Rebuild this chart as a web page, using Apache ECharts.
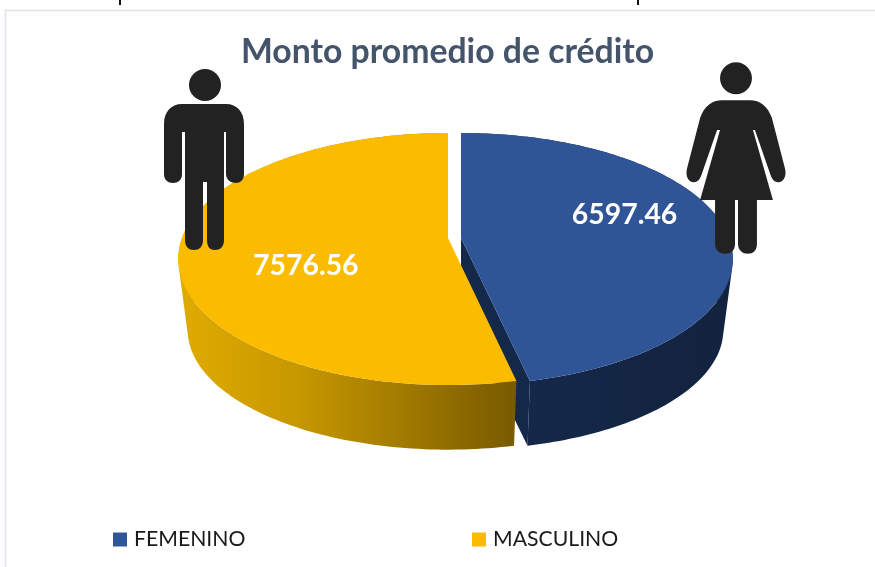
<!DOCTYPE html>
<html><head><meta charset="utf-8">
<style>html,body{margin:0;padding:0;background:#fff}#c{width:875px;height:567px}</style>
<script src="https://cdn.jsdelivr.net/npm/echarts@6/dist/echarts.min.js"></script>
</head><body><div id="c"></div>
<script>
const categories = ['FEMENINO', 'MASCULINO'];
const values = [6597.46, 7576.56];
const valueLabels = ['6597.46', '7576.56'];
const chartTitle = 'Monto promedio de crédito';

const total = values.reduce((a, b) => a + b, 0);
const P = { Ry: 122.5, persp: 0.1667, drop: 72, bottomKx: 0.965, bottomKy: 0.95, cy: 238 };
const looks = [
  { cx: 461, R: 268, top: '#2F5597', wall: [[0, '#17294C'], [1, '#12233F']], cut: '#14284A', lr: 0.625, ldy: -15 },
  { cx: 448, R: 266, top: '#FBBC00', wall: [[0, '#E0AB00'], [0.35, '#C79800'], [0.56, '#AE8400'], [1, '#785A00']], cut: '#785A00', lr: 0.528, ldy: 21 }
];
function project(L, theta, kx, ky, drop) {
  const u = Math.sin(theta), v = Math.cos(theta), w = 1 / (1 + P.persp * v);
  return [L.cx + kx * L.R * u * w, P.cy + drop - ky * P.Ry * v * w];
}
function arc(L, a0, a1, kx, ky, drop) {
  const n = 160, pts = [];
  for (let i = 0; i <= n; i++) pts.push(project(L, a0 + (a1 - a0) * i / n, kx, ky, drop));
  return pts;
}
function sweepPath(topArc, botArc) {
  let d = '';
  for (let i = 0; i < topArc.length - 1; i++) {
    let q = [topArc[i], topArc[i + 1], botArc[i + 1], botArc[i]];
    let area = 0;
    for (let j = 0; j < 4; j++) {
      const a = q[j], b = q[(j + 1) % 4];
      area += a[0] * b[1] - b[0] * a[1];
    }
    if (area < 0) q = q.slice().reverse();
    d += 'M' + q.map(p => p[0].toFixed(2) + ' ' + p[1].toFixed(2)).join('L') + 'Z';
  }
  return d;
}
function makeRender(index) {
  return function (params, api) {
    const val = api.value(0);
    let before = 0;
    for (let i = 0; i < index; i++) before += values[i];
    const a0 = before / total * Math.PI * 2, a1 = a0 + val / total * Math.PI * 2;
    const L = looks[index];
    const topArc = arc(L, a0, a1, 1, 1, 0);
    const botArc = arc(L, a0, a1, P.bottomKx, P.bottomKy, P.drop);
    const all = topArc.concat(botArc);
    const xs = all.map(p => +p[0].toFixed(2)), ys = all.map(p => +p[1].toFixed(2));
    const x0 = Math.min.apply(null, xs), x1 = Math.max.apply(null, xs);
    const y0 = Math.min.apply(null, ys), y1 = Math.max.apply(null, ys);
    const wallFill = new echarts.graphic.LinearGradient(x0, 0, x1, 0,
      L.wall.map(s => ({ offset: s[0], color: s[1] })), true);
    const apex = [L.cx, P.cy], apexB = [L.cx, P.cy + P.drop];
    const endT = topArc[topArc.length - 1], endB = botArc[botArc.length - 1];
    const lp = project(L, (a0 + a1) / 2, L.lr, L.lr, 0);
    return {
      type: 'group',
      children: [
        { type: 'polygon', shape: { points: [apex, endT, endB, apexB] }, style: { fill: L.cut } },
        { type: 'path', shape: { pathData: sweepPath(topArc, botArc), x: x0, y: y0, width: x1 - x0, height: y1 - y0 }, style: { fill: wallFill } },
        { type: 'polygon', shape: { points: [apex].concat(topArc) }, style: { fill: L.top } },
        { type: 'text', x: lp[0], y: lp[1] + L.ldy, style: {
            text: valueLabels[index], fill: '#fff', font: 'bold 28.4px Lato', align: 'center', verticalAlign: 'middle' } }
      ]
    };
  };
}
const man = 'M205 69a16 16 0 1 1-0.01 0ZM182 104H226C237 104 244 112 244 124V174C244 180 240 183 236 183C231 183 226 180 226 174V132H224V240C224 247 220 250 215 250C210 250 207 247 207 240V182H203V240C203 247 199 250 194 250C189 250 185 247 185 240V132H182V174C182 180 178 183 173 183C168 183 164 180 164 174V124C164 112 171 104 182 104Z';
const woman = 'M736 62a16 16 0 1 1-0.01 0ZM722 100H750C760 100 768 106 772 118L785 168C787 176 784 181 780 182C776 183 773 181 771 176L755 130H753L773 200H757V244C757 251 753 254 748 254C743 254 738 251 738 244V200H735V244C735 251 731 254 725 254C720 254 715 251 715 244V200H700L720 130H717L701 176C699 181 696 183 692 182C688 181 685 176 687 168L700 118C704 106 712 100 722 100Z';
function renderIcons() {
  return { type: 'group', children: [
    { type: 'path', shape: { pathData: man, x: 164, y: 69, width: 80, height: 181 }, style: { fill: '#222' } },
    { type: 'path', shape: { pathData: woman, x: 686.5, y: 62, width: 99, height: 192 }, style: { fill: '#222' } }
  ] };
}

const chart = echarts.init(document.getElementById('c'), null, { renderer: 'canvas' });
const legendText = { fontFamily: 'Lato', fontSize: 21.2, color: '#1a1a1a', padding: [0, 0, 0, 2] };
chart.setOption({
  animation: false,
  backgroundColor: '#fff',
  title: { text: chartTitle, left: 442.5, top: 30, textAlign: 'center',
    textStyle: { fontFamily: 'Lato', fontWeight: 'bold', fontSize: 33.75, color: '#44546A' } },
  legend: [
    { data: [categories[0]], left: 113, top: 529, padding: 0, itemWidth: 14, itemHeight: 14, icon: 'rect', selectedMode: false, textStyle: legendText },
    { data: [categories[1]], left: 472, top: 529, padding: 0, itemWidth: 14, itemHeight: 14, icon: 'rect', selectedMode: false, textStyle: legendText }
  ],
  series: categories.map((name, i) => ({
    type: 'custom', name, coordinateSystem: 'none', silent: true, z: i + 2,
    itemStyle: { color: looks[i].top },
    data: [[values[i]]],
    renderItem: makeRender(i)
  })).concat([{ type: 'custom', name: 'iconos', coordinateSystem: 'none', silent: true, z: 50, data: [[0]], renderItem: renderIcons }]),
  graphic: { elements: [
    { type: 'rect', z: 0, silent: true, shape: { x: 5.5, y: 10.5, width: 1000, height: 1000 }, style: { fill: 'none', stroke: '#DEE3EC', lineWidth: 1.5 } },
    { type: 'rect', z: 0, silent: true, shape: { x: 119, y: 0, width: 2, height: 5 }, style: { fill: '#111' } },
    { type: 'rect', z: 0, silent: true, shape: { x: 637, y: 0, width: 2, height: 5 }, style: { fill: '#111' } }
  ] }
});
</script></body></html>
